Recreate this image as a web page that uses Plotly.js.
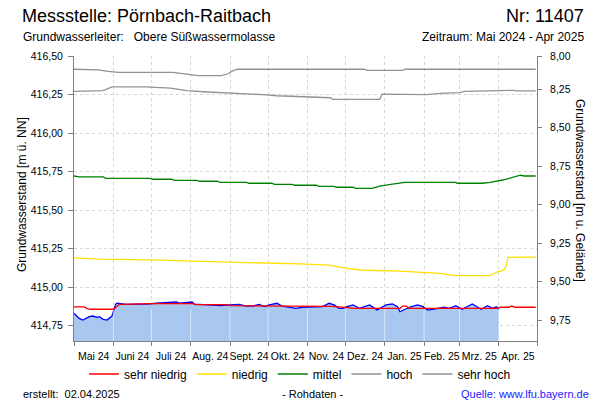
<!DOCTYPE html>
<html><head><meta charset="utf-8">
<script src="https://cdn.plot.ly/plotly-3.0.1.min.js"></script>
<style>html,body{margin:0;padding:0;background:#fff}#chart{width:600px;height:400px}</style>
</head><body><div id="chart"></div>
<script>
// ---- data ----
const monthStarts = ['2024-05-01','2024-06-01','2024-07-01','2024-08-01','2024-09-01','2024-10-01','2024-11-01','2024-12-01','2025-01-01','2025-02-01','2025-03-01','2025-04-01','2025-05-01'];
const monthLabels = ['Mai 24','Juni 24','Juli 24','Aug. 24','Sept. 24','Okt. 24','Nov. 24','Dez. 24','Jan. 25','Feb. 25','Mrz. 25','Apr. 25'];
const leftTicks = [414.75,415.00,415.25,415.50,415.75,416.00,416.25,416.50];
const rightTicks = [8.25,8.50,8.75,9.00,9.25,9.50,9.75];
const rightTopLabel = '8,00';
const groundLevel = 424.535;
const yRange = [414.65, 416.50];

const measDates = ['2024-05-01','2024-05-05','2024-05-08','2024-05-11','2024-05-13','2024-05-16','2024-05-19','2024-05-21','2024-05-24','2024-05-27','2024-05-29','2024-05-31','2024-06-02','2024-06-03','2024-06-04','2024-06-07','2024-06-11','2024-06-19','2024-06-27','2024-07-05','2024-07-13','2024-07-21','2024-07-23','2024-08-02','2024-08-04','2024-08-10','2024-08-18','2024-08-25','2024-09-01','2024-09-08','2024-09-14','2024-09-19','2024-09-24','2024-09-28','2024-10-02','2024-10-08','2024-10-12','2024-10-20','2024-10-23','2024-10-28','2024-11-05','2024-11-13','2024-11-18','2024-11-22','2024-11-26','2024-11-29','2024-12-02','2024-12-07','2024-12-12','2024-12-20','2024-12-22','2024-12-26','2025-01-02','2025-01-07','2025-01-11','2025-01-13','2025-01-17','2025-01-22','2025-01-27','2025-01-31','2025-02-04','2025-02-11','2025-02-17','2025-02-21','2025-02-26','2025-03-03','2025-03-07','2025-03-11','2025-03-18','2025-03-23','2025-03-27','2025-03-30','2025-04-01'];
const measValues = [414.830,414.797,414.786,414.797,414.808,414.812,414.804,414.808,414.791,414.786,414.797,414.812,414.869,414.890,414.895,414.890,414.888,414.890,414.890,414.895,414.897,414.903,414.895,414.903,414.890,414.888,414.886,414.879,414.884,414.888,414.877,414.877,414.888,414.873,414.884,414.895,414.877,414.869,414.862,414.869,414.869,414.873,414.895,414.884,414.862,414.862,414.873,414.884,414.862,414.884,414.873,414.851,414.884,414.890,414.873,414.840,414.856,414.873,414.884,414.873,414.851,414.862,414.869,414.862,414.879,414.856,414.873,414.890,414.856,414.879,414.862,414.873,414.858];

const sehrNiedrigDates = ['2024-05-01','2024-05-09','2024-05-11','2024-05-14','2024-06-01','2024-06-04','2024-06-06','2024-07-02','2024-08-03','2024-08-05','2024-08-30','2024-09-01','2024-09-30','2024-10-08','2024-11-20','2024-12-01','2024-12-08','2025-01-13','2025-01-15','2025-01-18','2025-01-20','2025-03-31','2025-04-02','2025-04-09','2025-04-11','2025-04-14','2025-04-30'];
const sehrNiedrigValues = [414.871,414.871,414.862,414.856,414.856,414.879,414.888,414.892,414.892,414.886,414.886,414.879,414.879,414.875,414.875,414.868,414.862,414.862,414.877,414.877,414.862,414.862,414.869,414.869,414.877,414.869,414.869];

const niedrigDates = ['2024-05-01','2024-05-21','2024-06-30','2024-08-08','2024-09-01','2024-09-24','2024-10-26','2024-11-18','2024-11-30','2024-12-12','2025-01-13','2025-02-13','2025-02-18','2025-02-26','2025-03-25','2025-03-28','2025-03-30','2025-04-05','2025-04-07','2025-04-08','2025-04-17','2025-04-18','2025-04-19','2025-04-30'];
const niedrigValues = [415.189,415.182,415.176,415.169,415.163,415.160,415.150,415.143,415.124,415.111,415.104,415.089,415.083,415.074,415.074,415.089,415.096,415.111,415.143,415.193,415.195,415.199,415.195,415.195];

const mittelDates = ['2024-05-01','2024-05-05','2024-05-24','2024-05-26','2024-06-30','2024-07-02','2024-07-17','2024-07-19','2024-08-06','2024-08-08','2024-08-22','2024-08-24','2024-09-14','2024-09-16','2024-10-04','2024-10-06','2024-10-20','2024-10-22','2024-11-08','2024-11-10','2024-11-22','2024-11-24','2024-12-07','2024-12-09','2024-12-22','2024-12-28','2025-01-07','2025-01-15','2025-01-17','2025-02-26','2025-02-27','2025-03-19','2025-03-25','2025-04-04','2025-04-12','2025-04-18','2025-04-21','2025-04-30'];
const mittelValues = [415.721,415.715,415.715,415.706,415.706,415.700,415.700,415.693,415.693,415.687,415.687,415.680,415.680,415.674,415.674,415.667,415.667,415.661,415.661,415.654,415.654,415.648,415.648,415.641,415.641,415.656,415.669,415.678,415.680,415.680,415.674,415.674,415.680,415.695,415.713,415.726,415.721,415.721];

const hochDates = ['2024-05-01','2024-05-24','2024-05-31','2024-06-26','2024-07-16','2024-07-29','2024-08-11','2024-08-30','2024-09-11','2024-09-27','2024-10-08','2024-10-29','2024-11-19','2024-11-21','2024-12-28','2024-12-30','2025-02-02','2025-02-03','2025-02-14','2025-03-01','2025-03-05','2025-03-27','2025-03-30','2025-04-05','2025-04-12','2025-04-16','2025-04-30'];
const hochValues = [416.271,416.275,416.299,416.299,416.292,416.275,416.268,416.262,416.255,416.249,416.242,416.236,416.229,416.219,416.219,416.253,416.253,416.249,416.258,416.262,416.271,416.273,416.277,416.275,416.277,416.273,416.273];

const sehrHochDates = ['2024-05-01','2024-05-20','2024-05-28','2024-06-05','2024-07-18','2024-07-23','2024-08-03','2024-08-07','2024-08-25','2024-08-30','2024-09-03','2024-09-07','2024-12-16','2024-12-18','2025-01-15','2025-01-17','2025-04-30'];
const sehrHochValues = [416.414,416.410,416.400,416.394,416.394,416.388,416.379,416.372,416.372,416.383,416.403,416.414,416.414,416.407,416.407,416.414,416.414];

// ---- helpers ----
const fmt = v => v.toFixed(2).replace('.', ',');
const toMs = d => new Date(d + 'T00:00:00Z').getTime();
const isoDay = ms => new Date(ms).toISOString().slice(0, 10) + ' ' + new Date(ms).toISOString().slice(11, 19);
const monthMids = monthLabels.map((_, i) => isoDay((toMs(monthStarts[i]) + toMs(monthStarts[i + 1])) / 2));
const topDepth = groundLevel - yRange[1];

const lineTrace = (x, y, name, color) => ({x, y, name, type: 'scatter', mode: 'lines', line: {color, width: 1.3}, hoverinfo: 'skip'});

const data = [
  {x: measDates, y: measValues, type: 'scatter', mode: 'lines', fill: 'tozeroy', fillcolor: '#a8c8f0', line: {color: '#0000ff', width: 1.3}, showlegend: false, hoverinfo: 'skip'},
  lineTrace(sehrNiedrigDates, sehrNiedrigValues, 'sehr niedrig', '#ff0000'),
  lineTrace(niedrigDates, niedrigValues, 'niedrig', '#ffe000'),
  lineTrace(mittelDates, mittelValues, 'mittel', '#008000'),
  lineTrace(hochDates, hochValues, 'hoch', '#929292'),
  lineTrace(sehrHochDates, sehrHochValues, 'sehr hoch', '#929292'),
  // depth view of the measured series on the right-hand axis (invisible; only makes the right axis exist)
  {x: measDates, y: measValues.map(v => groundLevel - v), yaxis: 'y2', type: 'scatter', mode: 'lines', line: {width: 0}, opacity: 0, showlegend: false, hoverinfo: 'skip'}
];

const W = 600, H = 400, mL = 74, mR = 63, mT = 56, mB = 59;
const pw = W - mL - mR, ph = H - mT - mB;
const px = x => (x - mL) / pw;
const py = y => (H - mB - y) / ph;

const ann = (text, x, y, xanchor, size, color, extra) => Object.assign({text, xref: 'paper', yref: 'paper', x: px(x), y: py(y), xanchor, yanchor: 'middle', showarrow: false, font: {size, color: color || '#000'}}, extra || {});

const annotations = [
  ann('Messstelle: Pörnbach-Raitbach', 20, 16, 'left', 18),
  ann('Nr: 11407', 586, 16, 'right', 18),
  ann('Grundwasserleiter:\u00a0\u00a0\u00a0Obere Süßwassermolasse', 21, 37, 'left', 12),
  ann('Zeitraum: Mai 2024 - Apr 2025', 586, 37, 'right', 12),
  ann('erstellt:\u00a0\u00a002.04.2025', 21, 394, 'left', 11),
  ann('- Rohdaten -', 312, 394, 'center', 11),
  ann('Quelle: www.lfu.bayern.de', 591, 394, 'right', 11, '#1a1aff'),
  ann('Grundwasserstand [m ü. NN]', 22, 195, 'center', 12, '#000', {textangle: -90}),
  ann('Grundwasserstand [m u. Gelände]', 580, 190, 'center', 12, '#000', {textangle: 90})
];

const fillGridTop = 414.855;
const shapes = monthStarts.slice(1, -1).map(d => ({type: 'line', xref: 'x', yref: 'y', x0: d, x1: d, y0: yRange[0], y1: fillGridTop, layer: 'above', line: {color: 'rgba(255,255,255,0.55)', width: 1}}));

const axisGrey = '#808080';
const layout = {
  width: W, height: H,
  margin: {l: mL, r: mR, t: mT, b: mB, pad: 0},
  paper_bgcolor: '#fff', plot_bgcolor: '#fff',
  font: {family: 'Liberation Sans, Arial, sans-serif', color: '#000', size: 11},
  showlegend: true,
  legend: {orientation: 'h', x: px(300), xanchor: 'center', y: py(374), yanchor: 'middle', font: {size: 12}, itemwidth: 30, bgcolor: 'rgba(0,0,0,0)', traceorder: 'normal'},
  xaxis: {
    type: 'date', range: [monthStarts[0], monthStarts[monthStarts.length - 1]],
    tickmode: 'array', tickvals: monthMids, ticktext: monthLabels, ticks: '', ticklabelstandoff: 5, tickangle: 0,
    showgrid: false, zeroline: false, showline: true, linecolor: axisGrey, linewidth: 1,
    tickfont: {size: 10.5},
    minor: {tickmode: 'array', tickvals: monthStarts, ticks: 'outside', ticklen: 4, tickcolor: axisGrey, showgrid: true, gridcolor: '#d6d6d6', griddash: '3px,3px', gridwidth: 1}
  },
  yaxis: {
    range: yRange, tickmode: 'array', tickvals: leftTicks, ticktext: leftTicks.map(fmt),
    ticks: 'outside', ticklen: 5, tickcolor: axisGrey, ticklabelstandoff: 3,
    showline: true, linecolor: axisGrey, linewidth: 1, zeroline: false,
    showgrid: true, gridcolor: '#d6d6d6', griddash: '3px,3px', gridwidth: 1,
    tickfont: {size: 10.5}
  },
  yaxis2: {
    overlaying: 'y', side: 'right', anchor: 'x',
    range: [groundLevel - yRange[0], groundLevel - yRange[1]],
    tickmode: 'array', tickvals: [topDepth].concat(rightTicks), ticktext: [rightTopLabel].concat(rightTicks.map(fmt)),
    ticks: 'outside', ticklen: 4, tickcolor: axisGrey, ticklabelstandoff: 6,
    showline: true, linecolor: axisGrey, linewidth: 1, zeroline: false, showgrid: false,
    tickfont: {size: 10.5}
  },
  annotations, shapes
};

Plotly.newPlot('chart', data, layout, {staticPlot: true, displayModeBar: false});
</script>
</body></html>
